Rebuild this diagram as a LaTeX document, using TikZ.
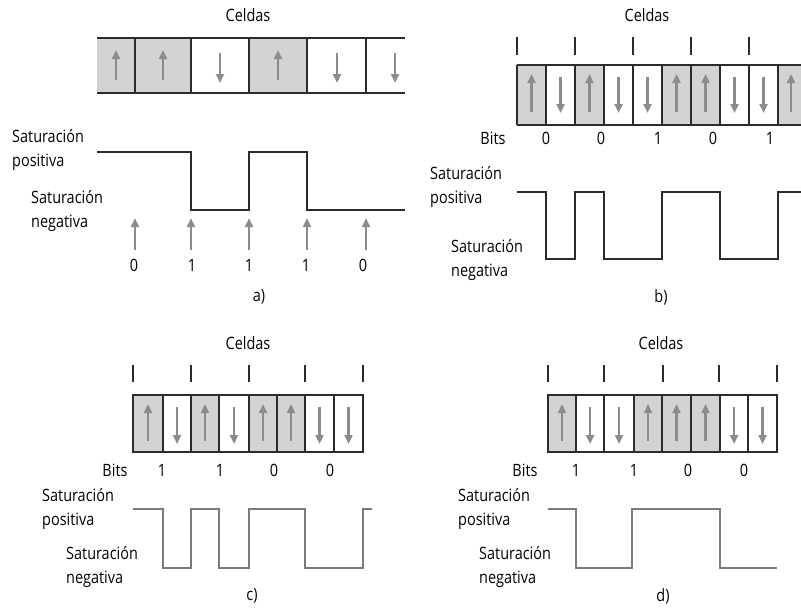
\documentclass[tikz,border=0pt]{standalone}
\usepackage{fontspec}
\setmainfont{Open Sans}[FakeStretch=0.85]
\usetikzlibrary{arrows.meta}
\definecolor{cellgray}{HTML}{D3D3D3}
\definecolor{arrgray}{HTML}{8C8C8C}
\definecolor{ink}{HTML}{2B2B2B}
\definecolor{wavegray}{HTML}{7A7A7A}
\tikzset{
  lbl/.style={font=\fontsize{17}{24}\selectfont, inner sep=0pt},
  sat/.style={lbl, align=left, anchor=west},
  frame/.style={draw=ink, line width=1.4pt},
  cellfill/.style={fill=cellgray},
  magarrow/.style={draw=arrgray, line width=2.3pt, -{Triangle[length=9pt,width=8pt]}},
  tickmark/.style={draw=ink, line width=1.4pt},
  wave/.style={draw=ink, line width=1.6pt},
  wavec/.style={draw=wavegray, line width=1.6pt},
}
\begin{document}
\begin{tikzpicture}[x=1pt,y=-1pt]
\useasboundingbox (0,0) rectangle (801,608);
\fill[white] (0,0) rectangle (801,608);

% ---------------- Panel a ----------------
\fill[cellfill] (97,38) rectangle (191,93);
\fill[cellfill] (249,38) rectangle (307,93);
\draw[frame] (97,38) -- (405,38);
\draw[frame] (97,93) -- (405,93);
\foreach \x in {135,191,249,307,366} \draw[frame] (\x,38) -- (\x,93);
\foreach \x in {116,163,278} \draw[magarrow] (\x,80) -- (\x,50);
\foreach \x in {220,337,395} \draw[magarrow] (\x,53) -- (\x,83);
\draw[wave] (97,152) -| (191,210) -| (249,152) -| (307,210) -- (405,210);
\foreach \x in {135,191,249,307,366} \draw[magarrow] (\x,250) -- (\x,218);
\node[lbl] (ca) at (248,15) {Celdas};
\node[sat] (pa) at (12,150) {Saturación\\positiva};
\node[sat] (na) at (31,211) {Saturación\\negativa};
\node[lbl] (a1) at (134,265) {0};
\node[lbl] (a2) at (192,265) {1};
\node[lbl] (a3) at (249,265) {1};
\node[lbl] (a4) at (306,265) {1};
\node[lbl] (a5) at (363,265) {0};
\node[lbl] (la) at (259,297) {a)};

% ---------------- Panel b ----------------
\foreach \a/\b in {517/546,575/604,662/691,691/720,778/801}
  \fill[cellfill] (\a,65) rectangle (\b,125);
\draw[frame] (517,65) -- (801,65);
\draw[frame] (517,125) -- (801,125);
\foreach \x in {517,546,575,604,633,662,691,720,749,778} \draw[frame] (\x,65) -- (\x,125);
\foreach \x in {531.5,589.5,676.5,705.5,791} \draw[magarrow] (\x,112) -- (\x,74);
\foreach \x in {560.5,618.5,647.5,734.5,763.5} \draw[magarrow] (\x,77) -- (\x,113);
\foreach \x in {517,575,633,691,749} \draw[tickmark] (\x,37) -- (\x,55);
\draw[wave] (517,192) -| (546,259) -| (575,192) -| (604,259) -| (662,192) -| (720,259) -| (778,192) -- (801,192);
\node[lbl] (cb) at (647,15) {Celdas};
\node[lbl] (bb) at (493,138) {Bits};
\node[lbl] (b1) at (546,138) {0};
\node[lbl] (b2) at (601,138) {0};
\node[lbl] (b3) at (658,138) {1};
\node[lbl] (b4) at (713,138) {0};
\node[lbl] (b5) at (770,138) {1};
\node[sat] (pb) at (430,187) {Saturación\\positiva};
\node[sat] (nb) at (451,260) {Saturación\\negativa};
\node[lbl] (lb) at (661,297) {b)};

% ---------------- Panel c ----------------
\foreach \a/\b in {133/163,191/219,249/305}
  \fill[cellfill] (\a,395) rectangle (\b,452);
\draw[frame] (133,395) rectangle (363,452);
\foreach \x in {163,191,219,249,277,305,334} \draw[frame] (\x,395) -- (\x,452);
\foreach \x in {148,205,263,291} \draw[magarrow] (\x,441) -- (\x,404);
\foreach \x in {177,234,319.5,348.5} \draw[magarrow] (\x,407) -- (\x,444);
\foreach \x in {133,191,249,305,363} \draw[tickmark] (\x,365) -- (\x,382);
\draw[wavec] (133,509) -| (163,568) -| (191,509) -| (219,568) -| (249,509) -| (305,568) -| (363,509) -- (372,509);
\node[lbl] (cc) at (248,343) {Celdas};
\node[lbl] (bc) at (115,470) {Bits};
\node[lbl] (c1) at (162,470) {1};
\node[lbl] (c2) at (220,470) {1};
\node[lbl] (c3) at (274,470) {0};
\node[lbl] (c4) at (330,470) {0};
\node[sat] (pc) at (42,509) {Saturación\\positiva};
\node[sat] (nc) at (66,567) {Saturación\\negativa};
\node[lbl] (lc) at (252,596) {c)};

% ---------------- Panel d ----------------
\foreach \a/\b in {548/576,634/720}
  \fill[cellfill] (\a,395) rectangle (\b,452);
\draw[frame] (548,395) rectangle (777,452);
\foreach \x in {576,604,634,662,691,720,748} \draw[frame] (\x,395) -- (\x,452);
\foreach \x in {562,648,676.5,705.5} \draw[magarrow] (\x,441) -- (\x,404);
\foreach \x in {590,619,734,762.5} \draw[magarrow] (\x,407) -- (\x,444);
\foreach \x in {548,604,663,719,777} \draw[tickmark] (\x,365) -- (\x,382);
\draw[wavec] (548,509) -| (576,568) -| (632,509) -| (720,568) -- (777,568);
\node[lbl] (cd) at (661,343) {Celdas};
\node[lbl] (bd) at (525,470) {Bits};
\node[lbl] (d1) at (576,470) {1};
\node[lbl] (d2) at (634,470) {1};
\node[lbl] (d3) at (688,470) {0};
\node[lbl] (d4) at (744,470) {0};
\node[sat] (pd) at (458,509) {Saturación\\positiva};
\node[sat] (nd) at (479,567) {Saturación\\negativa};
\node[lbl] (ld) at (663,596) {d)};
\end{tikzpicture}
\end{document}
